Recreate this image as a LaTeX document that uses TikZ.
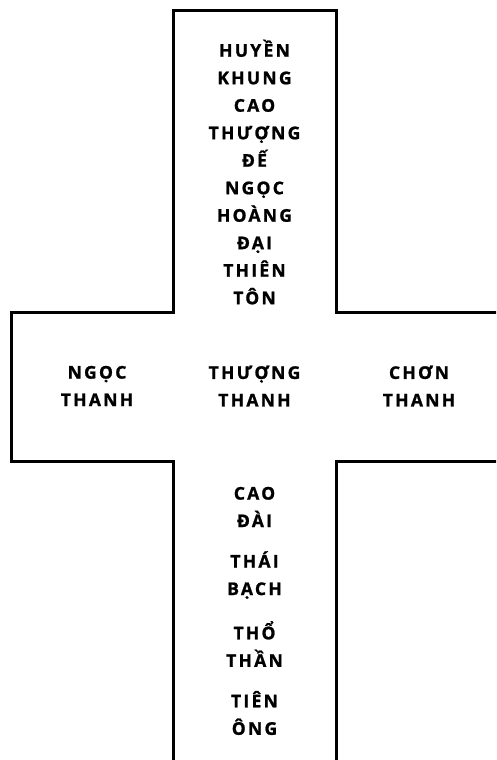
\documentclass[tikz,border=0pt]{standalone}
\usepackage{fontspec}
\setmainfont{Open Sans}[LetterSpace=13, BoldFeatures={FakeBold=1.2}]
\tikzset{
    texte/.style={font=\bfseries\fontsize{17.5}{27.5}\selectfont, align=center, inner sep=0pt}
}
\begin{document}
\begin{tikzpicture}[x=1pt,y=-1pt]

\useasboundingbox (0,0) rectangle (496,760);
\clip (0,0) rectangle (496,760);

% Contour de la croix
\draw[line width=3pt]
(173,770) -- (173,461) -- (11,461) -- (11,312) -- (173,312)
-- (173,11) -- (336,11) -- (336,312) -- (506,312)
-- (506,461) -- (336,461) -- (336,770);

% Branche haute
\node[texte] (haut)
at (254.5,172)
{HUYỀN\\KHUNG\\CAO\\THƯỢNG\\ĐẾ\\NGỌC\\HOÀNG\\ĐẠI\\THIÊN\\TÔN};

% Branche horizontale
\node[texte] (gauche)
at (97,386)
{NGỌC\\THANH};

\node[texte] (centre)
at (254.5,386)
{THƯỢNG\\THANH};

\node[texte] (droite)
at (419,386)
{CHƠN\\THANH};

% Branche basse
\foreach \i/\y/\t in {1/507/{CAO\\ĐÀI},2/575/{THÁI\\BẠCH},3/644/{THỔ\\THẦN},4/713/{TIÊN\\ÔNG}}
{
    \node[texte] (bas\i)
    at (254.5,\y)
    {\t};
}

\end{tikzpicture}
\end{document}
